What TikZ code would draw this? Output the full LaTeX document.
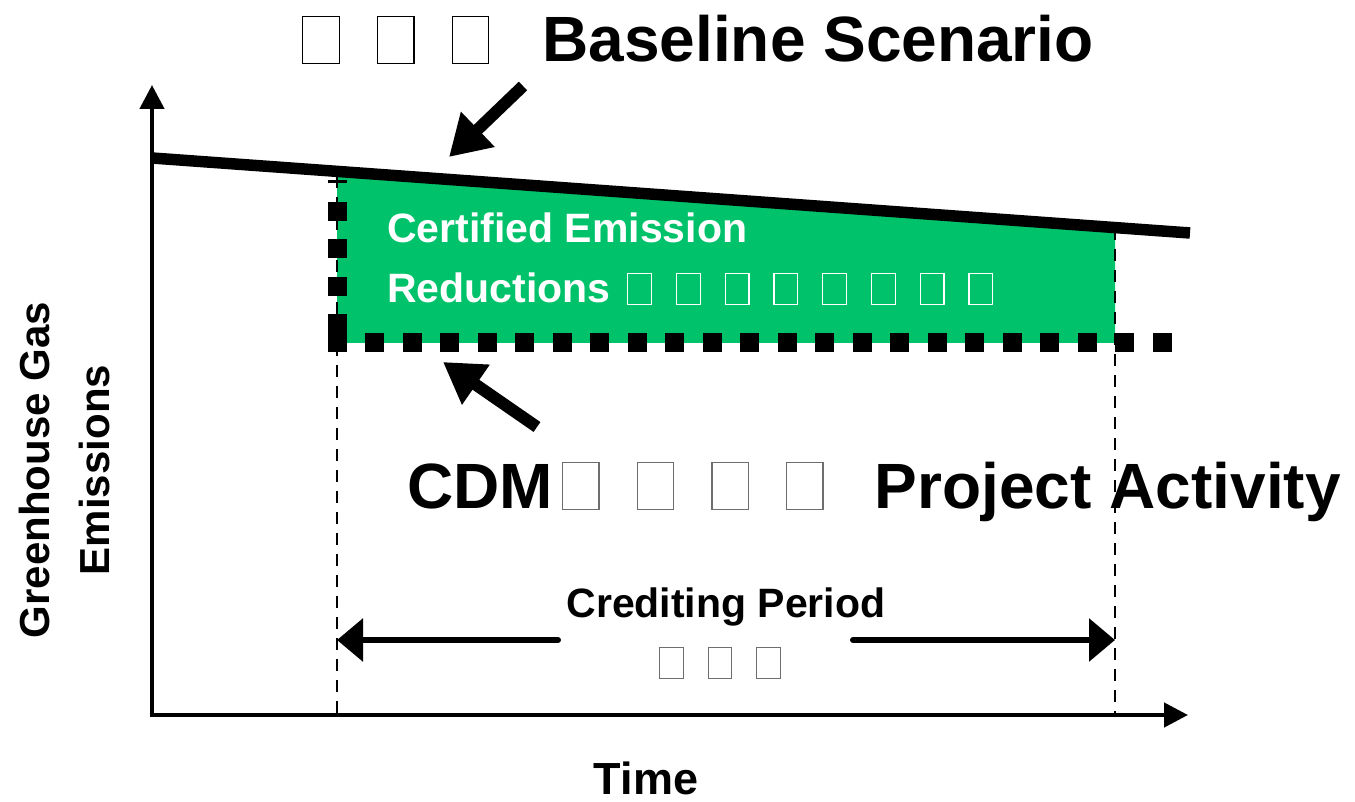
\documentclass[tikz,border=0pt]{standalone}
\usepackage{fontspec}
\setmainfont{Liberation Sans}
\usetikzlibrary{arrows.meta}
\definecolor{cergreen}{RGB}{0,194,106}
\definecolor{tofugray}{RGB}{110,110,110}
\newcommand\tfbox{{\fboxsep0pt\fboxrule1.2pt\raisebox{-.02em}{\fbox{\rule{0pt}{.72em}\rule{.55em}{0pt}}}}}
\newcommand\tf{\tfbox\kern.58em}
\begin{document}
\begin{tikzpicture}[x=1pt,y=-1pt,
  axis/.style={line width=4.5pt, -{Triangle[length=24pt,width=24pt]}},
  baseln/.style={line width=11.5pt},
  projline/.style={line width=19pt, dash pattern=on 19pt off 18.5pt},
  guide/.style={line width=2.5pt, dash pattern=on 12pt off 9pt},
  bigarrow/.style={line width=12pt, -{Triangle[length=40pt,width=46pt]}},
  period/.style={line width=6pt, line cap=round, -{Triangle[length=26pt,width=42pt]}},
  lbl/.style={inner sep=0pt, font=\bfseries\fontsize{#1}{#1}\selectfont},
]
\useasboundingbox (0,0) rectangle (1355,802);
% coordinates
\coordinate (O) at (152,715);
\coordinate (ytip) at (152,85);
\coordinate (xtip) at (1188,715);
\coordinate (B0) at (152,158);
\coordinate (B1) at (1190,233);
\coordinate (GL) at (337,171);
\coordinate (GR) at (1115,227);
\coordinate (C) at (337,343);
\coordinate (CR) at (1115,343);
\coordinate (Ptop) at (337,180);
\coordinate (Pend) at (1172,343);
\coordinate (L0) at (337,176);
\coordinate (L1) at (337,715);
\coordinate (R0) at (1115,228);
\coordinate (R1) at (1115,715);
% green area
\fill[cergreen] (GL) -- (GR) -- (CR) -- (C) -- cycle;
% baseline
\draw[baseln] (B0) -- (B1);
% guides
\draw[guide] (L0) -- (L1);
\draw[guide] (R0) -- (R1);
% project line
\draw[projline] ([yshift=9.5pt]C) -- (Ptop);
\draw[projline] ([xshift=-9.5pt]C) -- (Pend);
% axes
\draw[axis] ([yshift=2pt]O) -- (ytip);
\draw[axis] ([xshift=-2pt]O) -- (xtip);
% labels
\node[lbl=64, anchor=base west] (base) at (302,62) {\tf\tf\tf\hspace{.25em}Baseline Scenario};
\node[lbl=64, anchor=base west] (cdm) at (407,508) {CDM\hspace{.14em}{\color{tofugray}\tf\tf\tf\tfbox}\hspace{.8em}Project Activity};
\node[lbl=41, text=white, anchor=base west] (cer1) at (387,243) {Certified Emission};
\node[lbl=41, text=white, anchor=base west] (cer2) at (387,303) {Reductions\hspace{.41em}\tf\tf\tf\tf\tf\tf\tf\tfbox};
\node[lbl=41, anchor=base] (cp) at (726,617) {Crediting Period};
\node[lbl=41, text=tofugray] (cpz) at (720,663) {\tf\tf\tfbox};
\node[lbl=45, anchor=base] (time) at (646,794) {Time};
\node[rotate=90, align=center, inner sep=0pt, font=\bfseries\fontsize{42}{60}\selectfont] (ylab) at (64,470) {Greenhouse Gas\\Emissions};
% big arrows
\coordinate (ba0) at (523,86);
\coordinate (ba1) at (449,157);
\coordinate (ca0) at (537,427);
\coordinate (ca1) at (443,362);
\draw[bigarrow] (ba0) -- (ba1);
\draw[bigarrow] (ca0) -- (ca1);
% crediting period arrows
\coordinate (pl0) at (558,640);
\coordinate (pl1) at (337,640);
\coordinate (pr0) at (853,640);
\coordinate (pr1) at (1115,640);
\draw[period] (pl0) -- (pl1);
\draw[period] (pr0) -- (pr1);
\end{tikzpicture}
\end{document}
